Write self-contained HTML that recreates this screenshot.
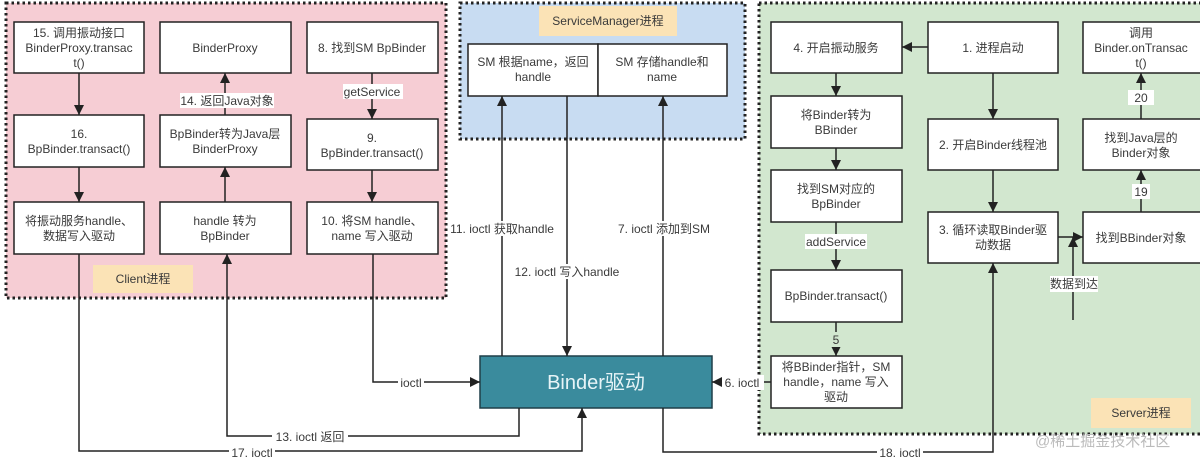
<!DOCTYPE html>
<html><head><meta charset="utf-8"><style>
html,body{margin:0;padding:0;background:#fff;width:1200px;height:457px;overflow:hidden}
text{font-family:"Liberation Sans","Noto Sans CJK SC",sans-serif;font-size:12px;fill:#3a3a3a}
</style></head><body>
<svg width="1200" height="457" viewBox="0 0 1200 457" xmlns="http://www.w3.org/2000/svg">
<defs>
<marker id="a" viewBox="0 0 10 10" refX="10" refY="5" markerWidth="10" markerHeight="10" orient="auto-start-reverse" markerUnits="userSpaceOnUse"><path d="M0,0 L10,5 L0,10 z" fill="#222"/></marker>
</defs>
<rect x="6" y="3" width="440" height="295" fill="#f6cdd4" stroke="#222" stroke-width="3" stroke-dasharray="2.5 3"/>
<rect x="460" y="3" width="285" height="136" fill="#c8dcf2" stroke="#222" stroke-width="3" stroke-dasharray="2.5 3"/>
<rect x="759" y="3" width="445" height="431" fill="#d2e7cf" stroke="#222" stroke-width="3" stroke-dasharray="2.5 3"/>
<rect x="93" y="265" width="100" height="28" fill="#fbe3b6"/>
<text x="143" y="283" text-anchor="middle">Client进程</text>
<rect x="539" y="6" width="138" height="30" fill="#fbe3b6"/>
<text x="608" y="25" text-anchor="middle">ServiceManager进程</text>
<rect x="1091" y="398" width="100" height="30" fill="#fbe3b6"/>
<text x="1141" y="417" text-anchor="middle">Server进程</text>

<g fill="#fff" stroke="#222" stroke-width="1.5">
<rect x="14" y="22" width="130" height="51"/><rect x="14" y="115" width="130" height="52"/><rect x="14" y="202" width="130" height="52"/>
<rect x="160" y="22" width="131" height="51"/><rect x="160" y="115" width="131" height="52"/><rect x="160" y="202" width="131" height="52"/>
<rect x="307" y="22" width="131" height="51"/><rect x="307" y="119" width="131" height="51"/><rect x="307" y="202" width="131" height="52"/>
<rect x="468" y="44" width="130" height="52"/><rect x="598" y="44" width="129" height="52"/>
<rect x="771" y="22" width="131" height="51"/><rect x="771" y="96" width="131" height="52"/><rect x="771" y="170" width="131" height="52"/><rect x="771" y="270" width="131" height="52"/><rect x="771" y="356" width="131" height="52"/>
<rect x="928" y="22" width="130" height="51"/><rect x="928" y="119" width="130" height="51"/><rect x="928" y="212" width="130" height="51"/>
<rect x="1083" y="22" width="122" height="51"/><rect x="1083" y="119" width="122" height="51"/><rect x="1083" y="212" width="122" height="51"/>
</g>
<rect x="480" y="356" width="232" height="52" fill="#3a8b9d" stroke="#1f3f48" stroke-width="1.5"/>
<text x="596" y="389" text-anchor="middle" style="font-size:20px;fill:#e6f4f7">Binder驱动</text>

<g text-anchor="middle">
<text x="79" y="37">15. 调用振动接口</text><text x="79" y="52">BinderProxy.transac</text><text x="79" y="67">t()</text>
<text x="79" y="138">16.</text><text x="79" y="153">BpBinder.transact()</text>
<text x="79" y="225">将振动服务handle、</text><text x="79" y="240">数据写入驱动</text>
<text x="225" y="52">BinderProxy</text>
<text x="225" y="138">BpBinder转为Java层</text><text x="225" y="153">BinderProxy</text>
<text x="225" y="225">handle 转为</text><text x="225" y="240">BpBinder</text>
<text x="372" y="52">8. 找到SM BpBinder</text>
<text x="372" y="142">9.</text><text x="372" y="157">BpBinder.transact()</text>
<text x="372" y="225">10. 将SM handle、</text><text x="372" y="240">name 写入驱动</text>
<text x="533" y="66">SM 根据name，返回</text><text x="533" y="81">handle</text>
<text x="662" y="66">SM 存储handle和</text><text x="662" y="81">name</text>
<text x="836" y="52">4. 开启振动服务</text>
<text x="836" y="119">将Binder转为</text><text x="836" y="134">BBinder</text>
<text x="836" y="193">找到SM对应的</text><text x="836" y="208">BpBinder</text>
<text x="836" y="300">BpBinder.transact()</text>
<text x="836" y="371">将BBinder指针，SM</text><text x="836" y="386">handle，name 写入</text><text x="836" y="401">驱动</text>
<text x="993" y="52">1. 进程启动</text>
<text x="993" y="149">2. 开启Binder线程池</text>
<text x="993" y="234">3. 循环读取Binder驱</text><text x="993" y="249">动数据</text>
<text x="1141" y="37">调用</text><text x="1141" y="52">Binder.onTransac</text><text x="1141" y="67">t()</text>
<text x="1141" y="142">找到Java层的</text><text x="1141" y="157">Binder对象</text>
<text x="1141" y="242">找到BBinder对象</text>
</g>

<g stroke="#222" stroke-width="1.5" fill="none">
<line x1="79" y1="73" x2="79" y2="115" marker-end="url(#a)"/>
<line x1="79" y1="167" x2="79" y2="202" marker-end="url(#a)"/>
<line x1="225" y1="115" x2="225" y2="73" marker-end="url(#a)"/>
<line x1="225" y1="202" x2="225" y2="167" marker-end="url(#a)"/>
<line x1="372" y1="73" x2="372" y2="119" marker-end="url(#a)"/>
<line x1="372" y1="170" x2="372" y2="202" marker-end="url(#a)"/>
<polyline points="79,254 79,451 582,451 582,408" marker-end="url(#a)"/>
<polyline points="519,408 519,436 227,436 227,254" marker-end="url(#a)"/>
<polyline points="373,254 373,382 480,382" marker-end="url(#a)"/>
<line x1="502" y1="356" x2="502" y2="96" marker-end="url(#a)"/>
<line x1="567" y1="96" x2="567" y2="356" marker-end="url(#a)"/>
<line x1="663" y1="356" x2="663" y2="96" marker-end="url(#a)"/>
<line x1="771" y1="382" x2="712" y2="382" marker-end="url(#a)"/>
<polyline points="663,408 663,452 993,452 993,263" marker-end="url(#a)"/>
<line x1="928" y1="47" x2="902" y2="47" marker-end="url(#a)"/>
<line x1="836" y1="73" x2="836" y2="96" marker-end="url(#a)"/>
<line x1="836" y1="148" x2="836" y2="170" marker-end="url(#a)"/>
<line x1="836" y1="222" x2="836" y2="270" marker-end="url(#a)"/>
<line x1="836" y1="322" x2="836" y2="356" marker-end="url(#a)"/>
<line x1="993" y1="73" x2="993" y2="119" marker-end="url(#a)"/>
<line x1="993" y1="170" x2="993" y2="212" marker-end="url(#a)"/>
<line x1="1058" y1="237" x2="1083" y2="237" marker-end="url(#a)"/>
<line x1="1073" y1="320" x2="1073" y2="237" marker-end="url(#a)"/>
<line x1="1141" y1="212" x2="1141" y2="170" marker-end="url(#a)"/>
<line x1="1141" y1="119" x2="1141" y2="73" marker-end="url(#a)"/>
</g>

<g text-anchor="middle">
<rect x="180" y="93" width="94" height="15" fill="#fff"/><text x="227" y="105">14. 返回Java对象</text>
<rect x="343" y="84" width="60" height="15" fill="#fff"/><text x="372" y="96">getService</text>
<rect x="805" y="234" width="62" height="15" fill="#fff"/><text x="836" y="246">addService</text>
<rect x="830" y="332" width="12" height="15" fill="#d2e7cf"/><text x="836" y="344">5</text>
<rect x="1128" y="90" width="26" height="15" fill="#fff"/><text x="1141" y="102">20</text>
<rect x="1132" y="184" width="18" height="15" fill="#fff"/><text x="1141" y="196">19</text>
<rect x="1050" y="276" width="48" height="16" fill="#fff"/><text x="1074" y="288">数据到达</text>
<rect x="450" y="221" width="104" height="15" fill="#fff"/><text x="502" y="233">11. ioctl 获取handle</text>
<rect x="514" y="264" width="106" height="15" fill="#fff"/><text x="567" y="276">12. ioctl 写入handle</text>
<rect x="618" y="221" width="92" height="15" fill="#fff"/><text x="664" y="233">7. ioctl 添加到SM</text>
<rect x="398" y="375" width="26" height="15" fill="#fff"/><text x="411" y="387">ioctl</text>
<rect x="722" y="375" width="42" height="15" fill="#fff"/><text x="742" y="387">6. ioctl</text>
<rect x="272" y="429" width="76" height="15" fill="#fff"/><text x="310" y="441">13. ioctl 返回</text>
<rect x="229" y="445" width="46" height="14" fill="#fff"/><text x="252" y="457">17. ioctl</text>
<rect x="877" y="445" width="46" height="14" fill="#fff"/><text x="900" y="457">18. ioctl</text>
</g>
<text x="1035" y="446" style="font-size:15px;fill:#bbb">@稀土掘金技术社区</text>
</svg>
</body></html>
